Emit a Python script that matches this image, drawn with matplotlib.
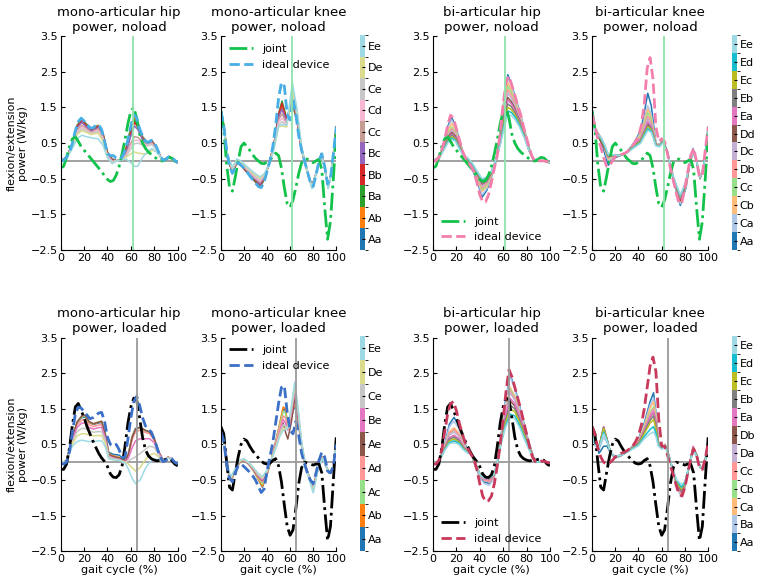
import numpy as np
import matplotlib.pyplot as plt
from matplotlib import colormaps
from matplotlib.cm import ScalarMappable
from matplotlib.colors import BoundaryNorm

plt.rcParams['font.family'] = 'DejaVu Sans'
plt.rcParams['font.size'] = 8

# gait cycle samples (%) used by the joint and ideal-device curves
gait = np.linspace(0, 100, 41)

# ---- joint power (W/kg) ----
hip_noload_joint = [-0.2, -0.15, 0.1, 0.4, 0.62, 0.68, 0.55, 0.4, 0.3, 0.2, 0.1, 0.0, -0.1, -0.2,
                    -0.3, -0.42, -0.52, -0.58, -0.55, -0.4, -0.15, 0.2, 0.6, 1.05, 1.4, 1.5, 1.2,
                    0.75, 0.5, 0.35, 0.25, 0.18, 0.12, 0.05, 0.0, 0.0, 0.05, 0.1, 0.08, 0.0, -0.08]
knee_noload_joint = [1.42, 0.9, -0.1, -0.75, -0.85, -0.45, 0.0, 0.4, 0.5, 0.4, 0.3, 0.18, 0.07, 0.0,
                     -0.07, -0.08, -0.03, 0.02, 0.12, 0.22, 0.15, -0.2, -0.75, -1.2, -1.3, -1.1,
                     -0.75, -0.35, -0.05, 0.05, 0.05, 0.0, -0.05, 0.0, 0.05, -0.25, -1.3, -2.2,
                     -1.7, -0.5, 0.8]
hip_loaded_joint = [-0.2, -0.2, -0.05, 0.4, 1.05, 1.55, 1.65, 1.45, 1.25, 1.0, 0.8, 0.6, 0.42, 0.25,
                    0.12, 0.02, -0.12, -0.33, -0.42, -0.43, -0.35, -0.1, 0.45, 1.1, 1.55, 1.8, 1.75,
                    1.25, 0.7, 0.35, 0.18, 0.1, 0.06, 0.04, 0.05, 0.06, 0.08, 0.1, 0.05, -0.05, -0.1]
knee_loaded_joint = [1.0, 0.8, 0.0, -0.7, -0.78, -0.3, 0.15, 0.5, 0.65, 0.6, 0.45, 0.32, 0.22, 0.12,
                     0.03, -0.03, -0.05, -0.03, 0.05, 0.1, -0.1, -0.55, -1.2, -1.8, -2.05, -1.9,
                     -1.3, -0.6, -0.15, 0.0, -0.02, -0.05, -0.08, -0.05, -0.05, -0.3, -1.3, -2.2,
                     -1.8, -0.5, 0.7]

# ---- ideal device power (W/kg) ----
mono_hip_noload_ideal = [0.0, 0.02, 0.1, 0.25, 0.5, 0.85, 1.1, 1.2, 1.12, 1.02, 0.93, 0.92, 1.0, 1.02,
                         0.88, 0.55, 0.2, 0.15, 0.15, 0.08, 0.05, 0.1, 0.3, 0.6, 0.98, 1.3, 1.2, 0.9,
                         0.7, 0.55, 0.52, 0.58, 0.52, 0.35, 0.15, 0.02, 0.05, 0.12, 0.1, 0.02, -0.05]
mono_knee_noload_ideal = [1.4, 1.0, 0.3, -0.15, -0.35, -0.2, -0.05, -0.12, -0.2, -0.3, -0.42, -0.52,
                          -0.62, -0.72, -0.75, -0.6, -0.3, 0.0, 0.4, 1.0, 1.75, 2.2, 2.1, 1.3, 1.15,
                          1.75, 1.3, 0.7, 0.3, 0.0, -0.3, -0.6, -0.72, -0.4, 0.0, 0.2, -0.15, -0.65,
                          -0.5, 0.2, 0.95]
bi_hip_noload_ideal = [0.0, 0.0, 0.1, 0.3, 0.6, 1.0, 1.28, 1.2, 0.9, 0.6, 0.3, 0.1, -0.02, -0.15, -0.3,
                       -0.6, -0.95, -1.15, -1.15, -0.95, -0.6, -0.2, 0.15, 0.8, 1.6, 2.2, 2.38, 2.12,
                       1.85, 1.55, 1.3, 0.95, 0.65, 0.35, 0.1, 0.0, 0.0, 0.0, 0.0, -0.02, -0.05]
bi_knee_noload_ideal = [1.3, 1.0, 0.6, 0.4, 0.1, -0.15, -0.15, 0.0, 0.12, 0.15, 0.18, 0.2, 0.25, 0.32,
                        0.42, 0.55, 0.7, 1.0, 1.6, 2.6, 2.9, 2.3, 0.95, 0.55, 0.62, 0.55, 0.2, -0.2,
                        -0.55, -0.9, -1.2, -1.15, -0.75, -0.3, 0.15, 0.35, 0.0, -0.45, -0.4, 0.3, 0.95]
mono_hip_loaded_ideal = [-0.05, -0.05, 0.0, 0.3, 0.85, 1.35, 1.55, 1.52, 1.42, 1.32, 1.22, 1.25, 1.32,
                         1.38, 1.4, 1.15, 0.7, 0.5, 0.45, 0.5, 0.35, 0.12, 0.15, 0.65, 1.25, 1.7,
                         1.85, 1.6, 1.25, 1.02, 0.92, 0.85, 0.65, 0.4, 0.15, 0.02, 0.05, 0.12, 0.1,
                         0.0, -0.05]
mono_knee_loaded_ideal = [0.85, 0.6, -0.05, -0.45, -0.55, -0.3, -0.1, -0.05, -0.12, -0.2, -0.28,
                          -0.38, -0.5, -0.68, -0.85, -0.75, -0.25, 0.15, 0.55, 1.1, 1.65, 2.1, 2.15,
                          1.4, 0.9, 0.8, 1.15, 0.75, 0.25, -0.05, -0.3, -0.5, -0.6, -0.3, 0.05, 0.28,
                          0.15, -0.25, -0.3, -0.1, 0.5]
bi_hip_loaded_ideal = [-0.05, -0.05, 0.05, 0.35, 0.85, 1.35, 1.65, 1.7, 1.45, 1.1, 0.8, 0.55, 0.38,
                       0.22, 0.1, -0.2, -0.6, -0.95, -1.1, -1.08, -0.95, -0.6, -0.1, 0.5, 1.2, 2.0,
                       2.6, 2.4, 2.1, 1.8, 1.5, 1.15, 0.8, 0.45, 0.15, 0.02, 0.0, 0.03, 0.03, 0.0, -0.03]
bi_knee_loaded_ideal = [1.0, 0.8, 0.4, 0.15, 0.0, -0.05, -0.02, 0.05, 0.15, 0.2, 0.25, 0.28, 0.32,
                        0.38, 0.45, 0.58, 0.75, 1.05, 1.5, 2.1, 2.7, 2.95, 2.55, 1.2, 0.45, 0.45, 0.2,
                        -0.1, -0.35, -0.65, -0.9, -0.95, -0.7, -0.3, 0.1, 0.38, 0.2, -0.15, -0.2, 0.1,
                        0.55]

# ---- device names ----
mono_noload_names = ['Aa', 'Ab', 'Ba', 'Bb', 'Bc', 'Cc', 'Cd', 'Ce', 'De', 'Ee']
bi_noload_names = ['Aa', 'Ca', 'Cb', 'Cc', 'Db', 'Dc', 'Dd', 'Ea', 'Eb', 'Ec', 'Ed', 'Ee']
mono_loaded_names = ['Aa', 'Ab', 'Ac', 'Ad', 'Ae', 'Be', 'Ce', 'De', 'Ee']
bi_loaded_names = ['Aa', 'Ba', 'Ca', 'Cb', 'Cc', 'Da', 'Db', 'Ea', 'Eb', 'Ec', 'Ed', 'Ee']

# ---- device power, one row per device (W/kg) ----
mono_hip_noload_gait = [0, 5, 10, 14, 18, 22, 26, 32, 36, 40, 44, 48, 52, 56, 60, 63, 66, 70, 74, 78,
                        82, 87, 93, 100]
mono_hip_noload_power = [
    [0.0, 0.1, 0.48, 1.0, 1.18, 1.04, 0.9, 1.0, 0.8, 0.25, 0.06, 0.0, 0.05, 0.38, 0.95, 1.25, 1.08, 0.68, 0.53, 0.57, 0.38, 0.0, 0.12, -0.05],
    [0.0, 0.1, 0.47, 0.98, 1.16, 1.02, 0.88, 0.99, 0.78, 0.24, 0.05, 0.0, 0.05, 0.36, 0.9, 1.22, 1.05, 0.66, 0.52, 0.56, 0.37, 0.0, 0.12, -0.05],
    [0.0, 0.1, 0.46, 0.97, 1.15, 1.0, 0.87, 0.97, 0.77, 0.22, 0.04, 0.0, 0.05, 0.33, 0.85, 1.15, 1.0, 0.64, 0.5, 0.55, 0.36, 0.0, 0.12, -0.05],
    [0.0, 0.1, 0.45, 0.96, 1.13, 0.98, 0.86, 0.96, 0.75, 0.2, 0.03, 0.0, 0.04, 0.3, 0.78, 1.08, 0.95, 0.62, 0.5, 0.54, 0.35, 0.0, 0.11, -0.05],
    [0.0, 0.1, 0.44, 0.92, 1.08, 0.95, 0.83, 0.93, 0.72, 0.18, 0.02, 0.0, 0.04, 0.25, 0.7, 0.98, 0.88, 0.6, 0.48, 0.52, 0.34, 0.0, 0.11, -0.05],
    [0.0, 0.09, 0.42, 0.86, 1.0, 0.9, 0.8, 0.9, 0.68, 0.15, 0.0, 0.0, 0.03, 0.2, 0.5, 0.68, 0.66, 0.55, 0.46, 0.5, 0.33, 0.0, 0.1, -0.04],
    [0.0, 0.09, 0.41, 0.82, 0.95, 0.87, 0.78, 0.86, 0.64, 0.13, -0.02, 0.0, 0.03, 0.16, 0.42, 0.58, 0.58, 0.5, 0.44, 0.48, 0.32, 0.0, 0.1, -0.04],
    [0.0, 0.08, 0.4, 0.78, 0.9, 0.84, 0.76, 0.82, 0.6, 0.1, -0.04, 0.0, 0.03, 0.13, 0.34, 0.48, 0.5, 0.45, 0.42, 0.46, 0.32, 0.0, 0.1, -0.04],
    [0.0, 0.08, 0.38, 0.74, 0.85, 0.8, 0.74, 0.78, 0.56, 0.08, -0.06, 0.0, 0.03, 0.1, 0.2, 0.25, 0.22, 0.2, 0.2, 0.3, 0.26, 0.0, 0.08, -0.03],
    [0.0, 0.07, 0.35, 0.62, 0.72, 0.68, 0.65, 0.62, 0.45, 0.1, -0.08, 0.0, 0.03, 0.05, -0.05, -0.15, -0.15, 0.1, 0.25, 0.35, 0.25, 0.05, 0.08, -0.03],
]

mono_knee_noload_gait = [0, 3, 6, 10, 14, 18, 24, 30, 34, 38, 42, 46, 50, 53, 57, 62, 66, 70, 75, 79,
                         83, 87, 90, 93, 96, 100]
mono_knee_noload_power = [
    [1.45, 0.9, 0.05, -0.32, -0.05, -0.15, -0.38, -0.6, -0.75, -0.5, -0.05, 0.45, 1.3, 1.5, 1.15, 1.6, 1.1, 0.3, -0.3, -0.72, -0.3, 0.2, -0.2, -0.72, -0.3, 0.95],
    [1.45, 0.9, 0.05, -0.3, -0.05, -0.15, -0.36, -0.58, -0.72, -0.48, -0.05, 0.45, 1.3, 1.55, 1.15, 1.65, 1.12, 0.3, -0.3, -0.72, -0.3, 0.2, -0.2, -0.72, -0.3, 0.95],
    [1.42, 0.88, 0.05, -0.3, -0.05, -0.14, -0.35, -0.57, -0.7, -0.47, -0.04, 0.46, 1.32, 1.68, 1.2, 1.7, 1.15, 0.3, -0.3, -0.72, -0.3, 0.2, -0.2, -0.72, -0.3, 0.95],
    [1.4, 0.88, 0.05, -0.28, -0.04, -0.13, -0.34, -0.55, -0.68, -0.46, -0.04, 0.45, 1.3, 1.62, 1.15, 1.75, 1.18, 0.3, -0.3, -0.73, -0.3, 0.2, -0.2, -0.72, -0.3, 0.95],
    [1.38, 0.86, 0.06, -0.27, -0.03, -0.12, -0.32, -0.52, -0.65, -0.44, -0.04, 0.42, 1.22, 1.45, 1.1, 1.8, 1.2, 0.3, -0.3, -0.73, -0.3, 0.19, -0.2, -0.73, -0.3, 0.93],
    [1.35, 0.85, 0.08, -0.25, -0.02, -0.1, -0.3, -0.5, -0.6, -0.42, -0.05, 0.4, 1.15, 1.32, 1.05, 1.85, 1.25, 0.32, -0.3, -0.74, -0.3, 0.18, -0.2, -0.74, -0.3, 0.9],
    [1.3, 0.82, 0.1, -0.24, 0.0, -0.08, -0.28, -0.47, -0.56, -0.4, -0.06, 0.38, 1.08, 1.2, 1.02, 1.9, 1.3, 0.34, -0.3, -0.75, -0.3, 0.18, -0.2, -0.75, -0.3, 0.88],
    [1.25, 0.8, 0.12, -0.22, 0.02, -0.06, -0.25, -0.44, -0.52, -0.38, -0.07, 0.36, 1.02, 1.1, 0.98, 1.95, 1.35, 0.35, -0.3, -0.76, -0.3, 0.17, -0.2, -0.76, -0.3, 0.85],
    [1.2, 0.78, 0.14, -0.2, 0.04, -0.04, -0.22, -0.4, -0.48, -0.36, -0.08, 0.34, 0.95, 0.98, 0.95, 2.05, 1.4, 0.36, -0.3, -0.77, -0.3, 0.16, -0.2, -0.77, -0.3, 0.82],
    [1.15, 0.75, 0.15, -0.18, 0.06, -0.02, -0.2, -0.36, -0.45, -0.34, -0.1, 0.33, 0.98, 1.02, 1.0, 2.2, 1.45, 0.38, -0.3, -0.78, -0.3, 0.16, -0.2, -0.78, -0.3, 0.8],
]

bi_hip_noload_gait = [0, 5, 10, 13, 16, 19, 22, 26, 30, 34, 38, 42, 46, 50, 54, 58, 61, 64, 67, 70,
                      74, 78, 82, 86, 90, 95, 100]
bi_hip_noload_power = [
    [0.0, 0.1, 0.57, 1.0, 1.22, 1.0, 0.66, 0.2, -0.08, -0.27, -0.6, -1.02, -0.83, -0.45, 0.0, 0.95, 1.8, 2.42, 2.15, 1.83, 1.4, 0.9, 0.38, 0.03, 0.0, 0.0, -0.05],
    [0.0, 0.1, 0.55, 0.95, 1.15, 0.95, 0.63, 0.2, -0.06, -0.25, -0.56, -0.95, -0.78, -0.42, 0.0, 0.92, 1.75, 2.35, 2.1, 1.8, 1.38, 0.88, 0.37, 0.03, 0.0, 0.0, -0.05],
    [0.0, 0.1, 0.52, 0.88, 1.05, 0.88, 0.6, 0.19, -0.04, -0.22, -0.5, -0.85, -0.72, -0.4, 0.01, 0.86, 1.65, 2.2, 2.0, 1.72, 1.32, 0.85, 0.36, 0.03, 0.0, 0.0, -0.05],
    [0.0, 0.09, 0.49, 0.8, 0.95, 0.82, 0.56, 0.18, -0.02, -0.2, -0.47, -0.8, -0.68, -0.38, 0.01, 0.82, 1.58, 2.1, 1.92, 1.66, 1.28, 0.82, 0.35, 0.03, 0.0, 0.0, -0.05],
    [0.0, 0.09, 0.47, 0.76, 0.9, 0.78, 0.54, 0.18, 0.0, -0.18, -0.44, -0.75, -0.64, -0.36, 0.02, 0.78, 1.5, 2.0, 1.84, 1.6, 1.24, 0.8, 0.34, 0.03, 0.0, 0.0, -0.05],
    [0.0, 0.09, 0.45, 0.72, 0.85, 0.74, 0.51, 0.17, 0.01, -0.16, -0.41, -0.7, -0.6, -0.35, 0.02, 0.74, 1.43, 1.9, 1.76, 1.54, 1.2, 0.78, 0.33, 0.03, 0.0, 0.0, -0.05],
    [0.0, 0.08, 0.43, 0.68, 0.8, 0.7, 0.48, 0.16, 0.02, -0.14, -0.38, -0.65, -0.57, -0.34, 0.03, 0.7, 1.35, 1.78, 1.66, 1.47, 1.15, 0.75, 0.32, 0.03, 0.0, 0.0, -0.05],
    [0.0, 0.08, 0.41, 0.64, 0.75, 0.66, 0.45, 0.16, 0.03, -0.13, -0.36, -0.62, -0.55, -0.33, 0.03, 0.66, 1.28, 1.7, 1.6, 1.42, 1.12, 0.74, 0.32, 0.03, 0.0, 0.0, -0.05],
    [0.0, 0.08, 0.4, 0.62, 0.72, 0.64, 0.43, 0.15, 0.04, -0.12, -0.35, -0.6, -0.53, -0.32, 0.04, 0.62, 1.2, 1.6, 1.52, 1.36, 1.08, 0.72, 0.31, 0.03, 0.0, 0.0, -0.05],
    [0.0, 0.07, 0.38, 0.58, 0.68, 0.61, 0.41, 0.15, 0.05, -0.11, -0.33, -0.56, -0.5, -0.31, 0.04, 0.58, 1.12, 1.5, 1.44, 1.3, 1.04, 0.7, 0.31, 0.04, 0.01, 0.0, -0.05],
    [0.0, 0.07, 0.36, 0.55, 0.64, 0.58, 0.39, 0.15, 0.06, -0.1, -0.32, -0.52, -0.47, -0.3, 0.05, 0.54, 1.04, 1.4, 1.36, 1.24, 1.0, 0.68, 0.3, 0.04, 0.01, 0.0, -0.05],
    [0.0, 0.07, 0.34, 0.52, 0.6, 0.55, 0.36, 0.15, 0.08, -0.08, -0.3, -0.5, -0.45, -0.3, 0.05, 0.5, 0.95, 1.3, 1.27, 1.17, 0.95, 0.65, 0.3, 0.05, 0.02, 0.0, -0.05],
]

bi_knee_noload_gait = [0, 3, 8, 11, 14, 18, 24, 30, 36, 42, 45, 48, 51, 55, 58, 61, 65, 70, 76, 81,
                       84, 87, 90, 93, 96, 100]
bi_knee_noload_power = [
    [1.28, 0.9, 0.55, 0.2, -0.12, 0.05, 0.15, 0.25, 0.5, 0.85, 1.35, 1.9, 1.55, 0.5, 0.45, 0.6, 0.25, -0.55, -1.25, -0.75, -0.1, 0.35, 0.0, -0.5, -0.2, 0.95],
    [1.25, 0.9, 0.6, 0.3, 0.0, 0.1, 0.15, 0.25, 0.48, 0.8, 1.15, 1.55, 1.3, 0.5, 0.45, 0.6, 0.25, -0.55, -1.2, -0.72, -0.1, 0.33, 0.0, -0.5, -0.2, 0.93],
    [1.22, 0.9, 0.62, 0.35, 0.05, 0.12, 0.15, 0.25, 0.46, 0.75, 1.08, 1.45, 1.22, 0.48, 0.44, 0.58, 0.25, -0.53, -1.15, -0.7, -0.1, 0.32, 0.0, -0.5, -0.2, 0.92],
    [1.2, 0.9, 0.62, 0.35, 0.08, 0.13, 0.15, 0.25, 0.45, 0.7, 1.0, 1.35, 1.15, 0.48, 0.44, 0.58, 0.25, -0.52, -1.12, -0.68, -0.1, 0.31, 0.0, -0.49, -0.2, 0.9],
    [1.18, 0.88, 0.64, 0.38, 0.1, 0.14, 0.15, 0.25, 0.44, 0.66, 0.95, 1.25, 1.08, 0.47, 0.43, 0.57, 0.25, -0.5, -1.1, -0.66, -0.1, 0.3, 0.0, -0.49, -0.2, 0.9],
    [1.16, 0.88, 0.64, 0.4, 0.12, 0.15, 0.15, 0.24, 0.43, 0.63, 0.9, 1.18, 1.02, 0.46, 0.43, 0.56, 0.24, -0.5, -1.08, -0.65, -0.1, 0.3, 0.0, -0.48, -0.2, 0.88],
    [1.15, 0.85, 0.5, 0.35, 0.12, 0.15, 0.15, 0.24, 0.42, 0.6, 0.82, 1.05, 0.95, 0.45, 0.42, 0.55, 0.24, -0.49, -1.12, -0.66, -0.1, 0.28, 0.0, -0.48, -0.2, 0.88],
    [1.14, 0.85, 0.62, 0.4, 0.14, 0.15, 0.15, 0.24, 0.42, 0.62, 0.85, 1.1, 0.98, 0.45, 0.42, 0.55, 0.24, -0.48, -1.05, -0.64, -0.1, 0.33, 0.0, -0.48, -0.2, 0.87],
    [1.12, 0.85, 0.6, 0.4, 0.15, 0.16, 0.15, 0.24, 0.41, 0.58, 0.8, 1.0, 0.92, 0.44, 0.41, 0.54, 0.24, -0.47, -1.02, -0.62, -0.1, 0.27, 0.0, -0.47, -0.2, 0.86],
    [1.1, 0.83, 0.6, 0.4, 0.16, 0.16, 0.15, 0.23, 0.4, 0.55, 0.76, 0.95, 0.88, 0.44, 0.41, 0.53, 0.23, -0.46, -1.0, -0.6, -0.1, 0.26, 0.0, -0.47, -0.2, 0.85],
    [1.08, 0.82, 0.62, 0.42, 0.17, 0.17, 0.15, 0.23, 0.38, 0.52, 0.72, 0.9, 0.84, 0.43, 0.4, 0.52, 0.23, -0.45, -0.98, -0.6, -0.1, 0.25, 0.0, -0.46, -0.2, 0.84],
    [1.05, 0.8, 0.65, 0.45, 0.18, 0.17, 0.15, 0.22, 0.36, 0.5, 0.68, 0.85, 0.8, 0.42, 0.4, 0.5, 0.23, -0.44, -0.95, -0.58, -0.1, 0.25, 0.0, -0.46, -0.2, 0.82],
]

mono_hip_loaded_gait = [0, 5, 10, 14, 18, 21, 24, 28, 32, 35, 38, 41, 45, 50, 55, 58, 61, 64, 68, 72,
                        76, 80, 84, 88, 92, 96, 100]
mono_hip_loaded_power = [
    [-0.03, 0.05, 0.68, 1.1, 1.25, 1.27, 1.12, 1.06, 1.1, 1.12, 0.82, 0.28, 0.22, 0.2, 0.05, 0.25, 0.72, 0.95, 0.98, 0.9, 0.85, 0.66, 0.28, 0.03, 0.14, 0.05, -0.08],
    [-0.03, 0.05, 0.7, 1.12, 1.28, 1.3, 1.13, 1.07, 1.12, 1.14, 0.8, 0.24, 0.18, 0.14, 0.03, 0.23, 0.7, 0.93, 0.97, 0.89, 0.84, 0.65, 0.28, 0.03, 0.15, 0.05, -0.09],
    [-0.03, 0.05, 0.7, 1.12, 1.27, 1.3, 1.14, 1.08, 1.13, 1.15, 0.8, 0.22, 0.16, 0.12, 0.02, 0.22, 0.68, 0.92, 0.96, 0.88, 0.83, 0.64, 0.27, 0.03, 0.14, 0.05, -0.09],
    [-0.03, 0.05, 0.66, 1.05, 1.18, 1.2, 1.06, 1.0, 1.04, 1.06, 0.75, 0.2, 0.14, 0.1, 0.02, 0.2, 0.62, 0.86, 0.9, 0.84, 0.8, 0.62, 0.27, 0.03, 0.14, 0.05, -0.09],
    [-0.03, 0.05, 0.7, 1.13, 1.3, 1.32, 1.15, 1.08, 1.12, 1.15, 0.8, 0.22, 0.16, 0.12, 0.02, 0.22, 0.68, 0.93, 0.98, 0.9, 0.85, 0.66, 0.28, 0.03, 0.14, 0.05, -0.09],
    [-0.03, 0.05, 0.62, 0.98, 1.1, 1.1, 0.98, 0.93, 0.97, 0.98, 0.7, 0.18, 0.12, 0.08, 0.01, 0.12, 0.4, 0.6, 0.66, 0.66, 0.66, 0.55, 0.25, 0.03, 0.14, 0.05, -0.09],
    [-0.03, 0.05, 0.58, 0.86, 0.95, 0.95, 0.88, 0.84, 0.86, 0.86, 0.62, 0.15, 0.1, 0.07, 0.0, 0.04, 0.1, 0.15, 0.25, 0.35, 0.45, 0.42, 0.2, 0.03, 0.13, 0.05, -0.09],
    [-0.03, 0.04, 0.52, 0.74, 0.8, 0.8, 0.77, 0.74, 0.75, 0.75, 0.55, 0.12, 0.08, 0.06, 0.0, -0.05, -0.15, -0.25, -0.15, 0.05, 0.2, 0.25, 0.15, 0.03, 0.12, 0.05, -0.09],
    [-0.03, 0.04, 0.45, 0.58, 0.62, 0.6, 0.58, 0.58, 0.6, 0.6, 0.45, 0.1, 0.07, 0.05, -0.02, -0.2, -0.45, -0.6, -0.5, -0.2, 0.0, 0.08, 0.08, 0.03, 0.12, 0.05, -0.09],
]

mono_knee_loaded_gait = [0, 3, 6, 9, 12, 16, 20, 24, 28, 32, 36, 40, 44, 48, 51, 54, 56, 58, 61, 64,
                         67, 70, 73, 76, 80, 84, 88, 91, 94, 97, 100]
mono_knee_loaded_power = [
    [1.0, 0.6, -0.25, -0.5, -0.28, -0.02, 0.05, -0.05, -0.22, -0.45, -0.7, -0.35, 0.1, 0.65, 1.05, 1.5, 1.45, 1.0, 1.25, 1.6, 1.15, 0.45, -0.05, -0.35, -0.68, -0.2, 0.15, -0.1, -0.3, -0.25, 0.6],
    [1.0, 0.6, -0.25, -0.5, -0.28, -0.02, 0.05, -0.05, -0.22, -0.45, -0.68, -0.34, 0.1, 0.65, 1.08, 1.55, 1.5, 1.05, 1.28, 1.65, 1.17, 0.46, -0.05, -0.36, -0.7, -0.2, 0.15, -0.1, -0.3, -0.25, 0.6],
    [0.95, 0.58, -0.24, -0.48, -0.27, -0.01, 0.05, -0.05, -0.21, -0.42, -0.62, -0.32, 0.1, 0.62, 1.02, 1.42, 1.38, 1.0, 1.3, 1.8, 1.22, 0.48, -0.04, -0.37, -0.72, -0.2, 0.14, -0.1, -0.3, -0.25, 0.58],
    [0.9, 0.56, -0.23, -0.46, -0.26, 0.0, 0.06, -0.04, -0.2, -0.4, -0.56, -0.3, 0.1, 0.58, 0.95, 1.3, 1.25, 0.95, 1.25, 1.7, 1.2, 0.48, -0.04, -0.37, -0.72, -0.2, 0.14, -0.1, -0.3, -0.24, 0.58],
    [0.88, 0.55, -0.22, -0.45, -0.25, 0.0, 0.06, -0.04, -0.2, -0.38, -0.52, -0.28, 0.1, 0.5, 0.8, 1.1, 0.85, 0.65, 1.1, 1.8, 1.25, 0.5, -0.04, -0.38, -0.74, -0.2, 0.13, -0.1, -0.3, -0.24, 0.56],
    [0.85, 0.54, -0.22, -0.44, -0.24, 0.01, 0.07, -0.03, -0.18, -0.36, -0.5, -0.27, 0.1, 0.52, 0.85, 1.2, 1.1, 0.9, 1.35, 1.95, 1.32, 0.52, -0.03, -0.38, -0.76, -0.21, 0.13, -0.1, -0.3, -0.24, 0.55],
    [0.8, 0.52, -0.21, -0.43, -0.23, 0.02, 0.08, -0.02, -0.16, -0.34, -0.46, -0.25, 0.1, 0.48, 0.8, 1.05, 1.02, 0.95, 1.45, 2.1, 1.4, 0.54, -0.03, -0.4, -0.8, -0.22, 0.12, -0.1, -0.3, -0.23, 0.53],
    [0.75, 0.5, -0.2, -0.42, -0.22, 0.03, 0.09, -0.01, -0.15, -0.32, -0.43, -0.24, 0.1, 0.45, 0.75, 0.95, 0.95, 0.95, 1.5, 2.15, 1.45, 0.55, -0.02, -0.4, -0.82, -0.22, 0.12, -0.1, -0.3, -0.23, 0.52],
    [0.7, 0.48, -0.18, -0.4, -0.2, 0.05, 0.1, 0.0, -0.14, -0.3, -0.4, -0.22, 0.1, 0.42, 0.72, 0.9, 0.92, 0.95, 1.55, 2.25, 1.5, 0.56, -0.02, -0.42, -0.86, -0.24, 0.11, -0.1, -0.3, -0.22, 0.5],
]

bi_hip_loaded_gait = [0, 5, 10, 14, 18, 22, 26, 30, 33, 36, 40, 44, 48, 52, 55, 58, 62, 66, 70, 74,
                      78, 82, 86, 90, 94, 100]
bi_hip_loaded_power = [
    [-0.02, 0.02, 0.5, 1.07, 1.26, 1.03, 0.6, 0.33, 0.23, -0.1, -0.42, -0.56, -0.59, -0.42, -0.05, 0.7, 1.73, 2.45, 2.1, 1.59, 1.07, 0.56, 0.14, 0.0, 0.03, -0.05],
    [-0.02, 0.02, 0.48, 1.0, 1.15, 0.95, 0.56, 0.32, 0.24, -0.1, -0.45, -0.6, -0.65, -0.48, -0.08, 0.68, 1.7, 2.4, 2.05, 1.55, 1.05, 0.55, 0.14, 0.0, 0.03, -0.05],
    [-0.02, 0.02, 0.44, 0.85, 0.97, 0.82, 0.5, 0.3, 0.24, -0.08, -0.38, -0.5, -0.55, -0.42, -0.05, 0.62, 1.5, 2.1, 1.85, 1.42, 0.97, 0.52, 0.13, 0.0, 0.03, -0.05],
    [-0.02, 0.02, 0.42, 0.8, 0.9, 0.77, 0.48, 0.29, 0.24, -0.06, -0.36, -0.48, -0.52, -0.4, -0.04, 0.6, 1.45, 2.05, 1.82, 1.4, 0.95, 0.5, 0.13, 0.0, 0.03, -0.05],
    [-0.02, 0.02, 0.42, 0.82, 0.92, 0.78, 0.48, 0.29, 0.24, -0.07, -0.38, -0.5, -0.55, -0.42, -0.05, 0.6, 1.42, 2.0, 1.78, 1.38, 0.94, 0.5, 0.13, 0.0, 0.03, -0.05],
    [-0.02, 0.02, 0.4, 0.76, 0.85, 0.73, 0.46, 0.28, 0.24, -0.05, -0.35, -0.46, -0.5, -0.4, -0.04, 0.58, 1.38, 1.95, 1.74, 1.35, 0.92, 0.49, 0.13, 0.0, 0.03, -0.05],
    [-0.02, 0.02, 0.38, 0.68, 0.75, 0.65, 0.42, 0.27, 0.24, -0.03, -0.33, -0.44, -0.48, -0.38, -0.03, 0.55, 1.25, 1.72, 1.58, 1.25, 0.86, 0.46, 0.12, 0.0, 0.03, -0.05],
    [-0.02, 0.02, 0.38, 0.68, 0.76, 0.66, 0.43, 0.27, 0.24, -0.04, -0.35, -0.47, -0.5, -0.4, -0.04, 0.56, 1.3, 1.8, 1.64, 1.3, 0.88, 0.47, 0.12, 0.0, 0.03, -0.05],
    [-0.02, 0.02, 0.37, 0.64, 0.7, 0.61, 0.41, 0.26, 0.24, -0.02, -0.33, -0.44, -0.46, -0.37, -0.03, 0.53, 1.18, 1.6, 1.5, 1.2, 0.82, 0.44, 0.12, 0.0, 0.03, -0.05],
    [-0.02, 0.02, 0.35, 0.6, 0.65, 0.57, 0.39, 0.26, 0.24, -0.01, -0.33, -0.44, -0.46, -0.36, -0.02, 0.52, 1.1, 1.5, 1.42, 1.12, 0.77, 0.41, 0.11, 0.0, 0.03, -0.05],
    [-0.02, 0.02, 0.34, 0.55, 0.6, 0.54, 0.37, 0.25, 0.25, 0.0, -0.34, -0.45, -0.45, -0.35, -0.01, 0.5, 1.02, 1.35, 1.3, 1.04, 0.7, 0.38, 0.1, 0.0, 0.03, -0.05],
    [-0.02, 0.02, 0.33, 0.52, 0.55, 0.5, 0.35, 0.25, 0.26, 0.02, -0.35, -0.45, -0.45, -0.35, 0.0, 0.5, 0.98, 1.25, 1.22, 0.98, 0.66, 0.36, 0.1, 0.0, 0.03, -0.05],
]

bi_knee_loaded_gait = [0, 3, 6, 10, 13, 16, 20, 25, 30, 35, 40, 45, 50, 53, 55, 57, 60, 63, 66, 70,
                       73, 77, 80, 83, 87, 90, 93, 96, 100]
bi_knee_loaded_power = [
    [1.0, 0.6, 0.25, 0.45, 0.45, 0.25, 0.12, 0.18, 0.3, 0.45, 0.65, 1.1, 1.7, 1.95, 1.4, 0.6, 0.4, 0.5, 0.2, -0.3, -0.68, -0.95, -0.7, -0.22, 0.33, 0.18, -0.15, -0.2, 0.55],
    [0.95, 0.55, 0.35, 0.7, 0.55, 0.25, 0.13, 0.18, 0.3, 0.44, 0.62, 1.05, 1.6, 1.8, 1.35, 0.58, 0.4, 0.5, 0.2, -0.3, -0.68, -0.93, -0.7, -0.22, 0.34, 0.18, -0.15, -0.2, 0.55],
    [0.95, 0.55, 0.4, 0.85, 0.6, 0.25, 0.14, 0.19, 0.3, 0.43, 0.6, 1.0, 1.52, 1.7, 1.3, 0.57, 0.4, 0.5, 0.2, -0.3, -0.66, -0.9, -0.68, -0.21, 0.35, 0.19, -0.14, -0.2, 0.55],
    [0.9, 0.52, 0.42, 0.95, 0.62, 0.26, 0.15, 0.2, 0.3, 0.42, 0.57, 0.95, 1.4, 1.55, 1.2, 0.55, 0.4, 0.48, 0.2, -0.28, -0.62, -0.85, -0.65, -0.2, 0.36, 0.2, -0.14, -0.2, 0.52],
    [0.9, 0.52, 0.42, 0.95, 0.62, 0.26, 0.15, 0.2, 0.3, 0.42, 0.56, 0.93, 1.35, 1.5, 1.18, 0.55, 0.4, 0.48, 0.2, -0.28, -0.62, -0.88, -0.66, -0.2, 0.37, 0.2, -0.14, -0.2, 0.52],
    [0.88, 0.5, 0.42, 0.95, 0.62, 0.26, 0.15, 0.2, 0.3, 0.41, 0.55, 0.9, 1.3, 1.45, 1.15, 0.54, 0.4, 0.48, 0.2, -0.28, -0.6, -0.85, -0.64, -0.2, 0.4, 0.21, -0.13, -0.2, 0.5],
    [0.88, 0.5, 0.42, 0.98, 0.63, 0.26, 0.15, 0.2, 0.3, 0.41, 0.54, 0.88, 1.26, 1.4, 1.1, 0.53, 0.4, 0.47, 0.2, -0.27, -0.6, -0.84, -0.63, -0.2, 0.42, 0.22, -0.13, -0.2, 0.5],
    [0.86, 0.5, 0.42, 1.0, 0.64, 0.26, 0.15, 0.2, 0.3, 0.41, 0.54, 0.88, 1.27, 1.42, 1.1, 0.53, 0.4, 0.47, 0.2, -0.27, -0.6, -0.82, -0.62, -0.2, 0.45, 0.22, -0.13, -0.2, 0.5],
    [0.85, 0.48, 0.42, 0.98, 0.63, 0.27, 0.16, 0.2, 0.29, 0.4, 0.52, 0.84, 1.18, 1.3, 1.02, 0.52, 0.4, 0.46, 0.2, -0.27, -0.58, -0.8, -0.6, -0.19, 0.4, 0.21, -0.13, -0.2, 0.5],
    [0.83, 0.48, 0.42, 0.95, 0.62, 0.27, 0.16, 0.2, 0.29, 0.39, 0.5, 0.8, 1.1, 1.2, 0.95, 0.5, 0.4, 0.46, 0.2, -0.26, -0.56, -0.75, -0.58, -0.19, 0.38, 0.2, -0.13, -0.2, 0.48],
    [0.8, 0.46, 0.4, 0.85, 0.6, 0.27, 0.16, 0.2, 0.28, 0.38, 0.48, 0.72, 0.92, 1.0, 0.82, 0.48, 0.38, 0.45, 0.2, -0.25, -0.52, -0.7, -0.56, -0.18, 0.35, 0.19, -0.12, -0.2, 0.46],
    [0.78, 0.45, 0.4, 0.8, 0.58, 0.27, 0.16, 0.2, 0.28, 0.37, 0.46, 0.66, 0.8, 0.85, 0.72, 0.46, 0.36, 0.44, 0.2, -0.24, -0.5, -0.62, -0.54, -0.18, 0.33, 0.18, -0.12, -0.2, 0.45],
]

# toe-off (% gait) marked by vertical line
toe_off_noload = 62
toe_off_loaded = 65

JOINT_GREEN = '#12c24a'
VLINE_GREEN = '#8fe3ac'
GRAY = '#9a9a9a'

fig = plt.figure(figsize=(7.59, 5.84), dpi=100)

col_left = [0.080, 0.291, 0.5705, 0.780]
col_width = [0.154, 0.152, 0.154, 0.153]
row_bottom = [0.572, 0.056]
ax_h = 0.366
cbar_left = [0.4745, 0.9645]

panels = [
    # row, col, title, gait points, power rows, names, joint, ideal, ideal color, joint color, toe-off, vline color
    (0, 0, 'mono-articular hip\npower, noload', mono_hip_noload_gait, mono_hip_noload_power,
     mono_noload_names, hip_noload_joint, mono_hip_noload_ideal, '#47aee6', JOINT_GREEN, toe_off_noload, VLINE_GREEN),
    (0, 1, 'mono-articular knee\npower, noload', mono_knee_noload_gait, mono_knee_noload_power,
     mono_noload_names, knee_noload_joint, mono_knee_noload_ideal, '#47aee6', JOINT_GREEN, toe_off_noload, VLINE_GREEN),
    (0, 2, 'bi-articular hip\npower, noload', bi_hip_noload_gait, bi_hip_noload_power,
     bi_noload_names, hip_noload_joint, bi_hip_noload_ideal, '#f47eac', JOINT_GREEN, toe_off_noload, VLINE_GREEN),
    (0, 3, 'bi-articular knee\npower, noload', bi_knee_noload_gait, bi_knee_noload_power,
     bi_noload_names, knee_noload_joint, bi_knee_noload_ideal, '#f47eac', JOINT_GREEN, toe_off_noload, VLINE_GREEN),
    (1, 0, 'mono-articular hip\npower, loaded', mono_hip_loaded_gait, mono_hip_loaded_power,
     mono_loaded_names, hip_loaded_joint, mono_hip_loaded_ideal, '#3c6fc6', 'black', toe_off_loaded, GRAY),
    (1, 1, 'mono-articular knee\npower, loaded', mono_knee_loaded_gait, mono_knee_loaded_power,
     mono_loaded_names, knee_loaded_joint, mono_knee_loaded_ideal, '#3c6fc6', 'black', toe_off_loaded, GRAY),
    (1, 2, 'bi-articular hip\npower, loaded', bi_hip_loaded_gait, bi_hip_loaded_power,
     bi_loaded_names, hip_loaded_joint, bi_hip_loaded_ideal, '#c8395b', 'black', toe_off_loaded, GRAY),
    (1, 3, 'bi-articular knee\npower, loaded', bi_knee_loaded_gait, bi_knee_loaded_power,
     bi_loaded_names, knee_loaded_joint, bi_knee_loaded_ideal, '#c8395b', 'black', toe_off_loaded, GRAY),
]

for row, col, title, g_pts, power, names, joint, ideal, ideal_c, joint_c, toe, vcol in panels:
    ax = fig.add_axes([col_left[col], row_bottom[row], col_width[col], ax_h])
    cmap = colormaps['tab20'].resampled(len(names))
    for i, vals in enumerate(power):
        ax.plot(g_pts, vals, color=cmap(i), lw=1.1)
    ax.axhline(0, color=GRAY, lw=1.3, zorder=1)
    ax.plot(gait, joint, color=joint_c, ls='-.', lw=2, label='joint')
    ax.plot(gait, ideal, color=ideal_c, ls='--', lw=2, label='ideal device')
    ax.axvline(toe, color=vcol, lw=1.3)

    ax.set_xlim(0, 100)
    ax.set_ylim(-2.5, 3.5)
    ax.set_xticks([0, 20, 40, 60, 80, 100])
    ax.set_yticks([-2.5, -1.5, -0.5, 0.5, 1.5, 2.5, 3.5])
    ax.tick_params(direction='in', length=3, pad=2, labelsize=8)
    ax.spines['top'].set_visible(False)
    ax.spines['right'].set_visible(False)
    ax.set_title(title, fontsize=9.5, pad=4)

    if col == 0:
        ax.set_ylabel('flexion/extension\npower (W/kg)', fontsize=8, labelpad=2)
    if row == 1:
        ax.set_xlabel('gait cycle (%)', fontsize=8, labelpad=1)
    if col == 1:
        ax.legend(loc='upper left', frameon=False, fontsize=8, borderaxespad=0.3, handlelength=2.2)
    if col == 2:
        ax.legend(loc='lower left', frameon=False, fontsize=8, borderaxespad=0.3, handlelength=2.2)

    if col in (1, 3):
        cax = fig.add_axes([cbar_left[col // 2], row_bottom[row], 0.0065, ax_h + 0.002])
        n = len(names)
        sm = ScalarMappable(cmap=cmap, norm=BoundaryNorm(np.arange(n + 1), n))
        cb = fig.colorbar(sm, cax=cax, ticks=np.arange(n) + 0.5)
        cb.set_ticklabels(names)
        cb.outline.set_visible(False)
        cax.tick_params(direction='in', length=2, pad=2, labelsize=8)

fig.savefig('out.png', dpi=100)
